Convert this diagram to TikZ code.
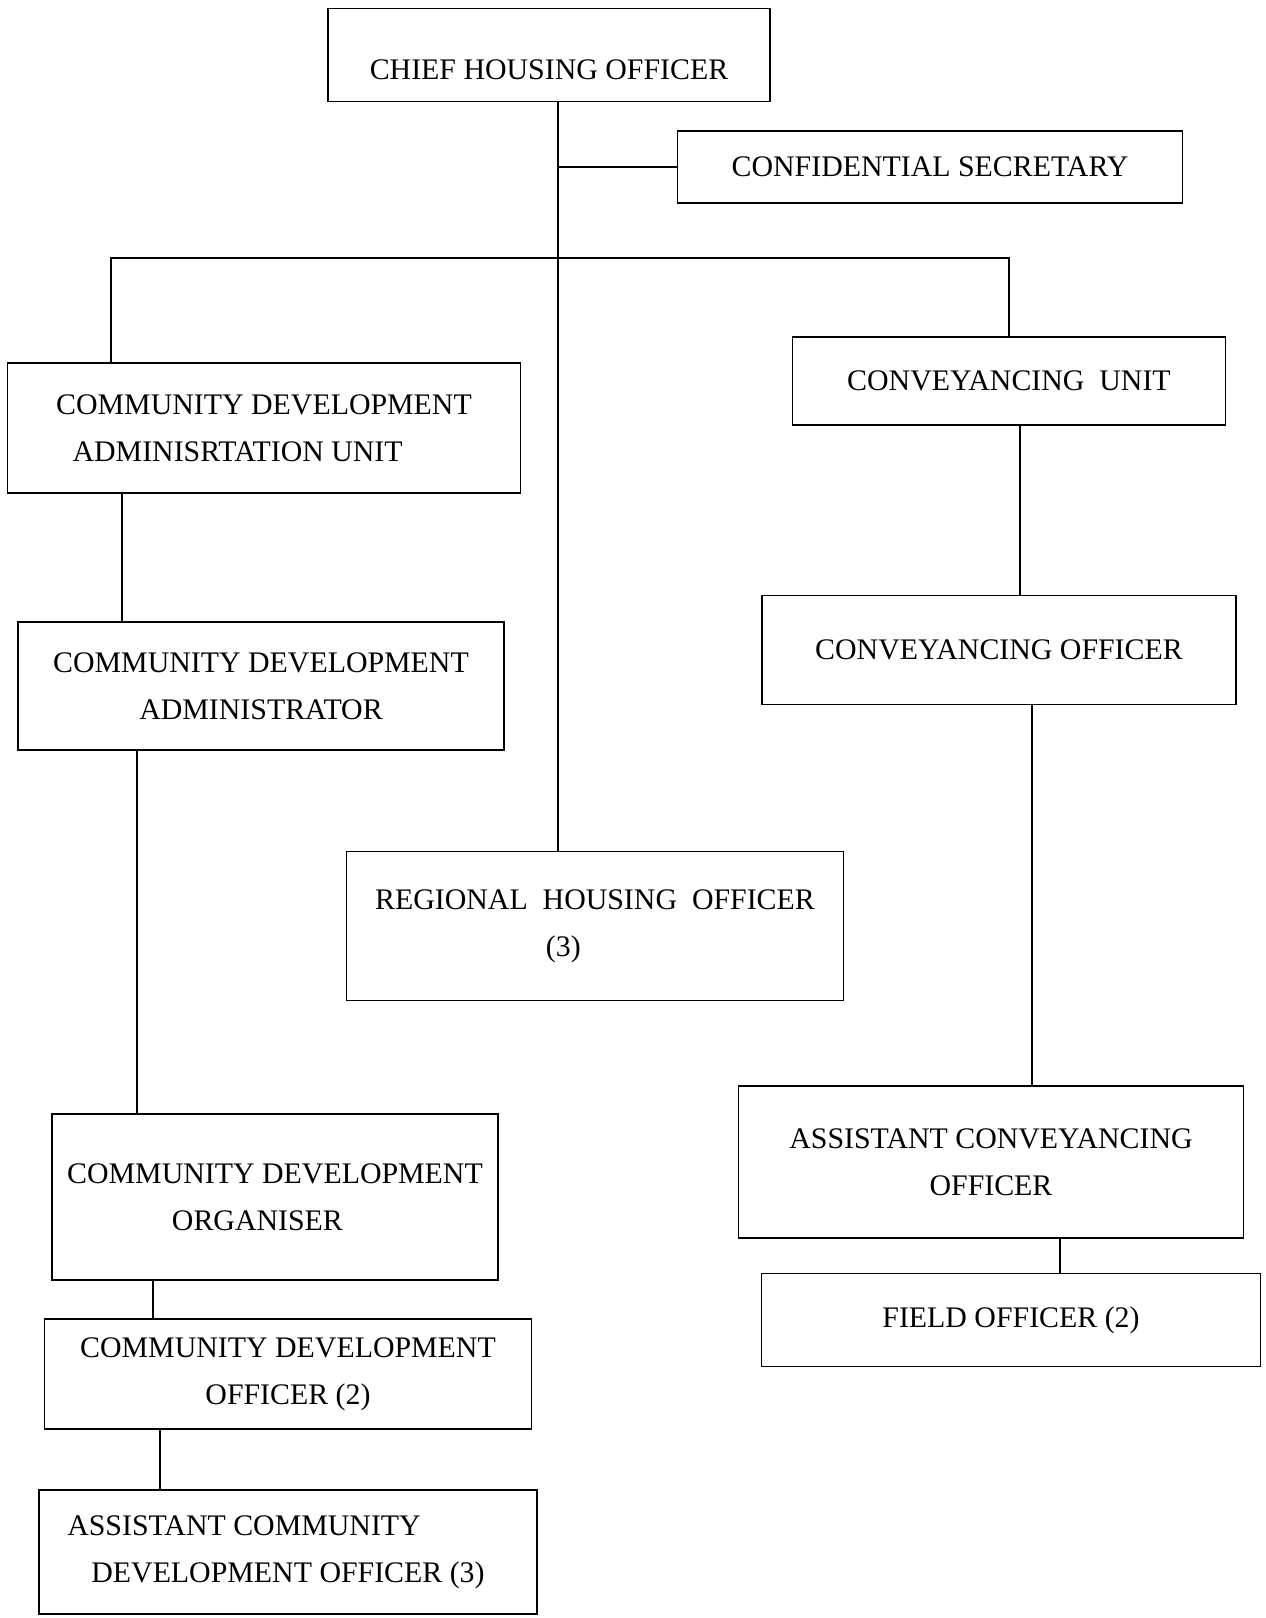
\documentclass[tikz,border=0pt]{standalone}
\usepackage{fontspec}
\setmainfont{Liberation Serif}

\begin{document}
\begin{tikzpicture}[x=0.02cm, y=-0.02cm,
    post/.style 2 args={draw, line width=0.8pt, minimum width=#1*0.02cm, minimum height=#2*0.02cm,
        align=center, inner sep=0pt, font=\fontsize{17}{27}\selectfont},
    link/.style={line width=0.8pt}]
    \useasboundingbox (0,0) rectangle (1266,1618);

    % --- top: chief and secretary ---
    \node[post={442}{93}] (cho) at (549,55) {\raisebox{-14pt}[0pt][0pt]{CHIEF HOUSING OFFICER}};
    \node[post={505}{72}] (sec) at (930,167) {CONFIDENTIAL SECRETARY};

    % --- middle: regional officers ---
    \node[post={497}{149}] (rho) at (595,926) {REGIONAL\ \ HOUSING\ \ OFFICER\\(3)\hspace*{36pt}};

    % --- left column: community development ---
    \node[post={513}{130}] (cdu) at (264,428) {COMMUNITY DEVELOPMENT\\\hspace*{-30pt}ADMINISRTATION UNIT};
    \node[post={486}{128}] (cda) at (261,686) {COMMUNITY DEVELOPMENT\\ADMINISTRATOR};
    \node[post={446}{166}] (cdo) at (275,1197) {COMMUNITY DEVELOPMENT\\ORGANISER\hspace*{20pt}};
    \node[post={487}{110}] (cdof) at (288,1374) {COMMUNITY DEVELOPMENT\\OFFICER (2)};
    \node[post={498}{124}] (acdo) at (288,1552) {ASSISTANT COMMUNITY\hspace*{50pt}\\DEVELOPMENT OFFICER (3)};

    % --- right column: conveyancing ---
    \node[post={433}{88}] (cvu) at (1009,381) {CONVEYANCING\ \ UNIT};
    \node[post={474}{109}] (cvo) at (999,650) {CONVEYANCING OFFICER};
    \node[post={505}{152}] (aco) at (991,1162) {ASSISTANT CONVEYANCING\\OFFICER};
    \node[post={499}{93}] (fo) at (1011,1320) {FIELD OFFICER (2)};

    % --- trunks ---
    \coordinate (trunk) at (558,0);
    \coordinate (bar) at (0,258);
    \coordinate (lcol) at (111,0);
    \draw[link] (cho.south -| trunk) -- (rho.north -| trunk);
    \draw[link] (trunk |- sec.west) -- (sec.west);
    \draw[link] (lcol |- cdu.north) -- (lcol |- bar) -- (bar -| cvu.north) -- (cvu.north);

    % --- left links ---
    \draw[link] ([xshift=-142*0.02cm]cdu.south) -- ([xshift=-139*0.02cm]cda.north);
    \draw[link] ([xshift=-124*0.02cm]cda.south) -- ([xshift=-138*0.02cm]cdo.north);
    \draw[link] ([xshift=-122*0.02cm]cdo.south) -- ([xshift=-135*0.02cm]cdof.north);
    \draw[link] ([xshift=-128*0.02cm]cdof.south) -- ([xshift=-128*0.02cm]acdo.north);

    % --- right links ---
    \draw[link] ([xshift=11*0.02cm]cvu.south) -- ([xshift=21*0.02cm]cvo.north);
    \draw[link] ([xshift=33*0.02cm]cvo.south) -- ([xshift=41*0.02cm]aco.north);
    \draw[link] ([xshift=69*0.02cm]aco.south) -- ([xshift=49*0.02cm]fo.north);
\end{tikzpicture}
\end{document}
